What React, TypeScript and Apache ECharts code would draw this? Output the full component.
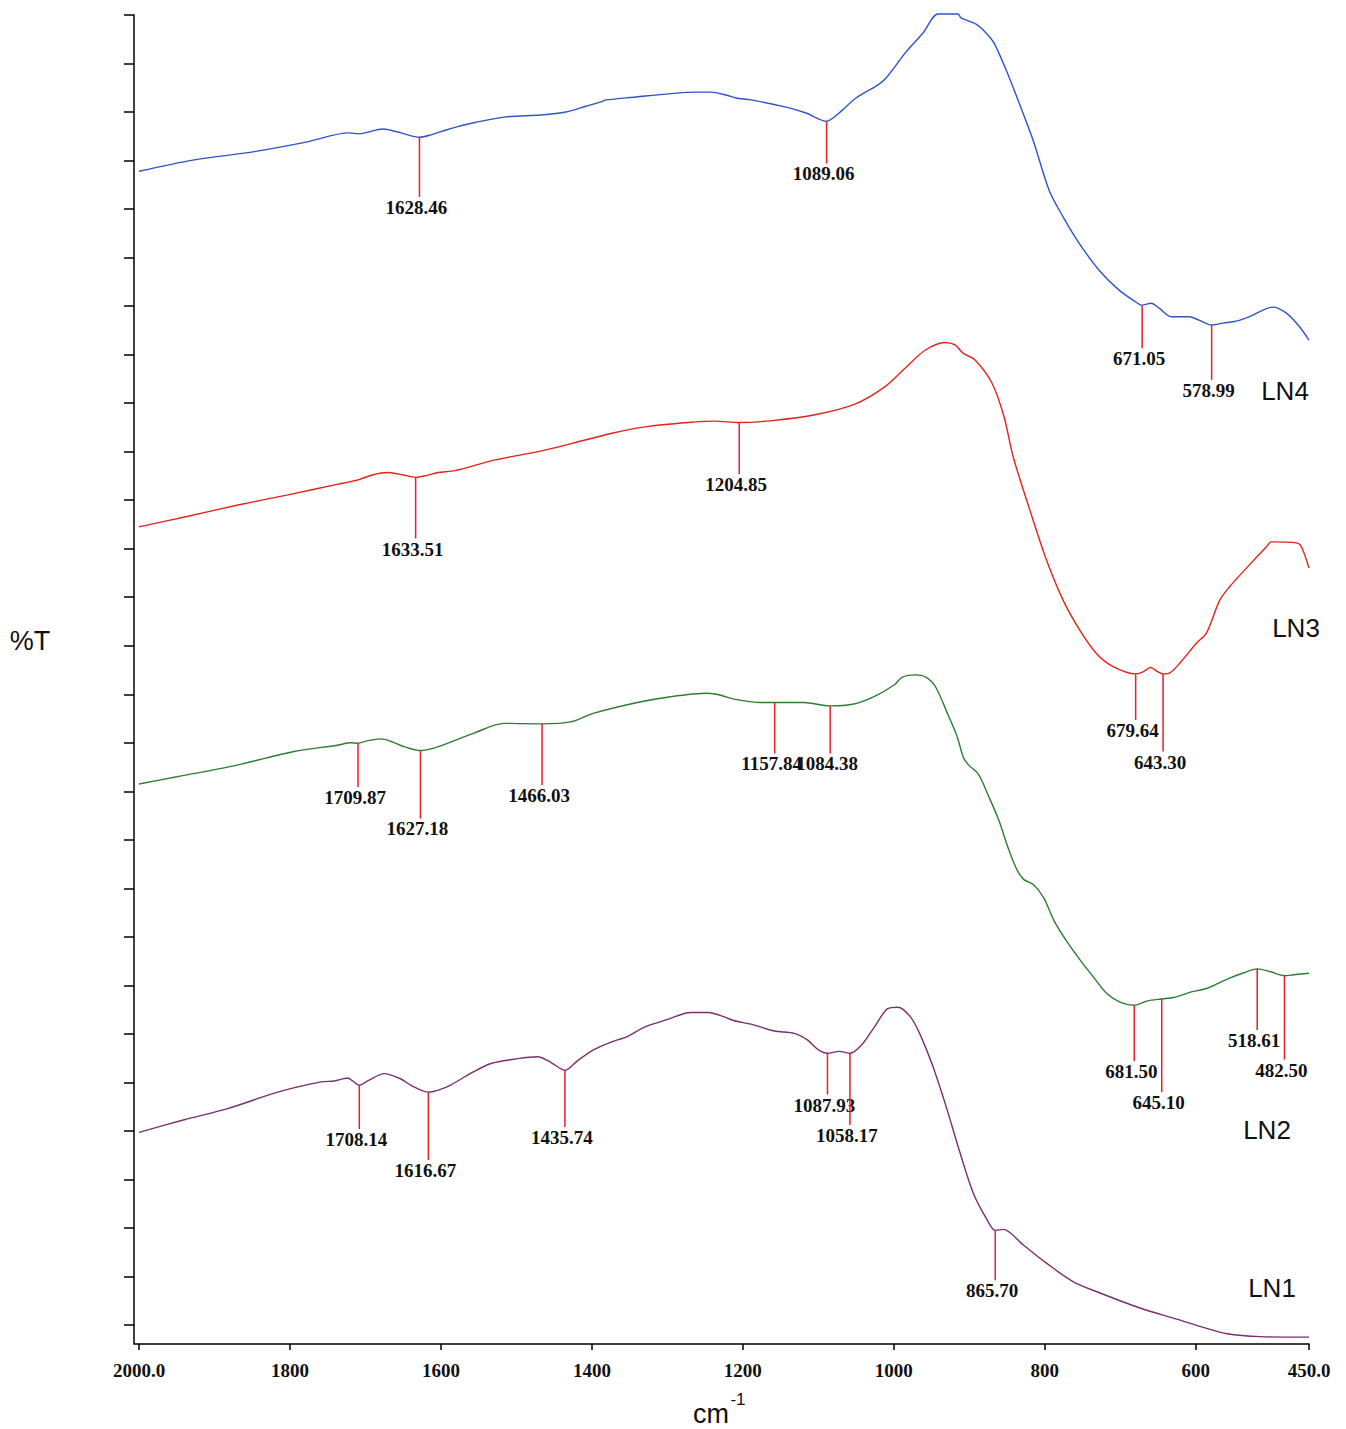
import React, { useEffect, useRef } from 'react';
import * as echarts from 'echarts';

// x-axis tick values (wavenumber, cm^-1)
const X_TICKS = [2000, 1800, 1600, 1400, 1200, 1000, 800, 600, 450];

const SERIES_NAMES = ['LN4', 'LN3', 'LN2', 'LN1'];
const SERIES_COLORS = ['#2f55c4', '#e3231b', '#2e7d32', '#7a2f6e'];

// spectra: [wavenumber, %T (arbitrary, offset units)]
const LN4: [number, number][] = [
  [2000, 23.78], [1928.5, 24.01], [1849, 24.18], [1778.7, 24.38], [1721.8, 24.57], [1708.5, 24.55],
  [1676.7, 24.65], [1652.9, 24.57], [1628.46, 24.48], [1613.1, 24.53], [1593.3, 24.63], [1580, 24.69],
  [1553.5, 24.79], [1513.8, 24.9], [1467.4, 24.94], [1434.3, 25.0], [1407.8, 25.12], [1387.9, 25.21],
  [1381.3, 25.25], [1341.5, 25.31], [1301.8, 25.37], [1262, 25.41], [1242.2, 25.41], [1222.3, 25.35],
  [1209, 25.29], [1189.2, 25.25], [1142.8, 25.1], [1116.3, 24.98], [1089.06, 24.81], [1072.6, 24.98],
  [1050.1, 25.29], [1020.9, 25.56], [1010.3, 25.7], [983.8, 26.24], [961.3, 26.63], [941.4, 27.02],
  [914.9, 27.02], [911, 26.94], [891.1, 26.81], [877.8, 26.63], [867.2, 26.42], [851.3, 25.87],
  [834.1, 25.19], [815.5, 24.42], [794.3, 23.39], [775.8, 22.84], [754.6, 22.3], [728.1, 21.74],
  [701.6, 21.33], [675.1, 21.04], [671.05, 21.02], [659.2, 21.06], [648.6, 20.96], [632.7, 20.78],
  [608.9, 20.78], [595.6, 20.71], [578.99, 20.61], [563.8, 20.65], [546.6, 20.69], [529.4, 20.78],
  [497.6, 20.98], [480.3, 20.86], [464.4, 20.61], [450, 20.3],
];

const LN3: [number, number][] = [
  [2000, 16.45], [1935.1, 16.67], [1868.8, 16.9], [1802.6, 17.11], [1736.3, 17.33], [1709.8, 17.42],
  [1691.3, 17.52], [1670.1, 17.57], [1650.2, 17.52], [1633.51, 17.47], [1621.1, 17.5], [1603.9, 17.57],
  [1581.3, 17.61], [1528.3, 17.83], [1471.4, 18.0], [1426.3, 18.17], [1373.3, 18.38], [1329.6, 18.51],
  [1272.6, 18.6], [1236.9, 18.63], [1204.85, 18.6], [1161.3, 18.64], [1104.4, 18.76], [1051.4, 18.98],
  [1011.6, 19.34], [985.1, 19.72], [958.6, 20.09], [932.1, 20.25], [918.9, 20.2], [908.3, 20.03],
  [892.4, 19.89], [869.9, 19.41], [854, 18.72], [842, 17.9], [819.9, 16.8], [797.9, 15.77],
  [775.8, 14.94], [753.7, 14.32], [731.7, 13.84], [709.5, 13.57], [679.64, 13.42], [669.8, 13.46],
  [660.1, 13.55], [649.9, 13.46], [643.3, 13.42], [634.4, 13.44], [621.2, 13.64], [599.2, 14.05],
  [585.9, 14.26], [568.2, 14.94], [554.9, 15.22], [532.9, 15.6], [506.4, 16.04], [499.8, 16.14],
  [466.7, 16.12], [460.1, 16.04], [450, 15.6],
];

const LN2: [number, number][] = [
  [2000, 11.15], [1949.7, 11.3], [1870.2, 11.54], [1794.6, 11.82], [1737.7, 11.95], [1719.1, 12.0],
  [1709.87, 11.99], [1697.9, 12.04], [1679.4, 12.08], [1664.8, 12.02], [1648.9, 11.92], [1627.18, 11.84],
  [1609.2, 11.89], [1582.7, 12.04], [1556.2, 12.2], [1516.4, 12.4], [1466.03, 12.39], [1428, 12.43],
  [1397.2, 12.61], [1339.8, 12.83], [1295.6, 12.95], [1247.1, 13.02], [1229.3, 12.98], [1211.7, 12.9],
  [1176.3, 12.83], [1157.84, 12.83], [1118.9, 12.83], [1084.38, 12.76], [1052.7, 12.8], [1026.2, 12.95],
  [999.7, 13.19], [989.1, 13.35], [971.5, 13.4], [958.2, 13.36], [945, 13.16], [927.2, 12.54],
  [916.2, 12.13], [907.4, 11.68], [900.7, 11.54], [887.5, 11.34], [874.2, 10.89], [861, 10.41],
  [847.6, 9.79], [836.5, 9.37], [827.7, 9.18], [814.5, 9.07], [801.2, 8.8], [788, 8.34],
  [770.2, 7.89], [752.6, 7.51], [735, 7.16], [717.2, 6.82], [699.6, 6.65], [681.5, 6.59],
  [664.2, 6.68], [645.1, 6.72], [629, 6.75], [606.9, 6.86], [584.7, 6.94], [558.2, 7.13],
  [536.3, 7.26], [518.61, 7.34], [500.9, 7.28], [482.5, 7.2], [470, 7.22], [450, 7.25],
];

const LN1: [number, number][] = [
  [2000, 3.97], [1940, 4.23], [1882.5, 4.46], [1816.2, 4.8], [1758.9, 5.01], [1741.3, 5.03],
  [1723.5, 5.09], [1716.9, 5.03], [1708.14, 4.94], [1697, 5.03], [1675, 5.18], [1652.9, 5.07],
  [1639.6, 4.94], [1616.67, 4.8], [1599.9, 4.86], [1586.6, 4.95], [1560.1, 5.19], [1533.6, 5.39],
  [1498.3, 5.49], [1471.8, 5.53], [1454.1, 5.41], [1435.74, 5.25], [1418.8, 5.45], [1396.8, 5.68],
  [1374.7, 5.83], [1352.5, 5.95], [1330.5, 6.14], [1299.5, 6.3], [1268.7, 6.44], [1246.5, 6.44],
  [1224.5, 6.35], [1211.3, 6.27], [1189.2, 6.2], [1158.3, 6.06], [1131.8, 6.01], [1114.1, 5.87],
  [1100.8, 5.68], [1087.93, 5.6], [1072.2, 5.64], [1058.17, 5.6], [1043.4, 5.76], [1025.8, 6.14],
  [1008.1, 6.52], [994.8, 6.55], [978.5, 6.36], [965.3, 5.99], [947.6, 5.3], [929.9, 4.46],
  [912.3, 3.55], [894.6, 2.71], [876.9, 2.18], [865.7, 1.95], [854.9, 1.97], [828.4, 1.65],
  [797.4, 1.27], [762.1, 0.89], [726.8, 0.66], [673.8, 0.35], [625.2, 0.12], [585.4, -0.07],
  [558.9, -0.18], [514.8, -0.24], [461.8, -0.25], [450, -0.25],
];

// peak markers: [wavenumber, curve value, marker-line end value]
const LN4_PEAKS: [number, number, number][] = [
  [1628.46, 24.48, 23.25], [1089.06, 24.81, 23.94], [671.05, 21.02, 20.13], [578.99, 20.61, 19.48],
];
const LN3_PEAKS: [number, number, number][] = [
  [1633.51, 17.47, 16.21], [1204.85, 18.6, 17.54], [679.64, 13.42, 12.47], [643.3, 13.42, 11.82],
];
const LN2_PEAKS: [number, number, number][] = [
  [1709.87, 11.99, 11.09], [1627.18, 11.84, 10.44], [1466.03, 12.39, 11.13], [1157.84, 12.83, 11.78],
  [1084.38, 12.76, 11.78], [681.5, 6.59, 5.44], [645.1, 6.72, 4.8], [518.61, 7.34, 6.08], [482.5, 7.2, 5.47],
];
const LN1_PEAKS: [number, number, number][] = [
  [1708.14, 4.94, 4.04], [1616.67, 4.8, 3.4], [1435.74, 5.25, 4.08], [1087.93, 5.6, 4.75],
  [1058.17, 5.6, 4.12], [865.7, 1.95, 0.92],
];

const SERIES_DATA = [LN4, LN3, LN2, LN1];
const ALL_PEAKS = [...LN4_PEAKS, ...LN3_PEAKS, ...LN2_PEAKS, ...LN1_PEAKS];

const SERIF = '"Liberation Serif", "Times New Roman", serif';
const SANS = '"Liberation Sans", Arial, sans-serif';

function sansText(text: string, x: number, y: number, size: number) {
  return {
    type: 'text',
    x,
    y,
    silent: true,
    style: {
      text,
      fontSize: size,
      fontFamily: SANS,
      fill: '#111',
      align: 'center',
      verticalAlign: 'middle',
      textAlign: 'center',
      textVerticalAlign: 'middle',
    },
  };
}

export default function App() {
  const ref = useRef<HTMLDivElement>(null);

  useEffect(() => {
    if (!ref.current) return;
    const chart = echarts.init(ref.current, undefined, { renderer: 'svg' });

    const lineSeries = SERIES_DATA.map((data, i) => ({
      name: SERIES_NAMES[i],
      type: 'line',
      data,
      showSymbol: false,
      smooth: 0.3,
      clip: false,
      lineStyle: { color: SERIES_COLORS[i], width: 1.4 },
      z: 2,
    }));

    const peakSeries = {
      type: 'custom',
      data: ALL_PEAKS,
      clip: false,
      z: 3,
      renderItem: (params: any, api: any) => {
        const w = api.value(0);
        const p1 = api.coord([w, api.value(1)]);
        const p2 = api.coord([w, api.value(2)]);
        return {
          type: 'group',
          children: [
            {
              type: 'line',
              shape: { x1: p1[0], y1: p1[1], x2: p2[0], y2: p2[1] },
              style: { stroke: '#e8202a', lineWidth: 1.5 },
            },
            {
              type: 'text',
              x: p2[0] - 3,
              y: p2[1] + 1,
              style: {
                text: Number(w).toFixed(2),
                fontSize: 19,
                fontWeight: 'bold',
                fontFamily: SERIF,
                fill: '#111',
                align: 'center',
                verticalAlign: 'top',
                textAlign: 'center',
                textVerticalAlign: 'top',
              },
            },
          ],
        };
      },
    };

    chart.setOption({
      animation: false,
      backgroundColor: '#ffffff',
      grid: { left: 139, right: 37, top: 15, bottom: 104 },
      xAxis: {
        type: 'value',
        inverse: true,
        min: 450,
        max: 2000,
        offset: 19,
        splitLine: { show: false },
        axisLine: { show: true, onZero: false, lineStyle: { color: '#000', width: 1.5 } },
        axisTick: {
          show: true,
          length: 6,
          customValues: X_TICKS,
          lineStyle: { color: '#000', width: 1.5 },
        },
        axisLabel: {
          customValues: X_TICKS,
          margin: 17,
          fontSize: 19,
          fontWeight: 'bold',
          fontFamily: SERIF,
          color: '#111',
          formatter: (v: number) => (v === 2000 || v === 450 ? v.toFixed(1) : String(v)),
        },
      },
      yAxis: {
        type: 'value',
        min: 0,
        max: 27,
        interval: 1,
        offset: 5,
        splitLine: { show: false },
        axisLine: { show: true, onZero: false, lineStyle: { color: '#000', width: 1.5 } },
        axisTick: { show: true, length: 10, lineStyle: { color: '#000', width: 1.5 } },
        axisLabel: { show: false },
      },
      graphic: [
        {
          type: 'polyline',
          silent: true,
          shape: { points: [[134, 1325], [134, 1344], [139, 1344]] },
          style: { stroke: '#000', lineWidth: 1.5, fill: 'none' },
        },
        sansText('%T', 30, 641, 27),
        sansText('cm', 711, 1414, 27),
        sansText('-1', 738, 1399, 17),
        sansText(SERIES_NAMES[0], 1285, 391, 26),
        sansText(SERIES_NAMES[1], 1296, 628, 26),
        sansText(SERIES_NAMES[2], 1267, 1130, 26),
        sansText(SERIES_NAMES[3], 1272, 1288, 26),
      ],
      series: [...lineSeries, peakSeries],
    });

    return () => chart.dispose();
  }, []);

  return (
    <div
      ref={ref}
      style={{ position: 'absolute', left: 0, top: 0, width: 1346, height: 1429 }}
    />
  );
}
